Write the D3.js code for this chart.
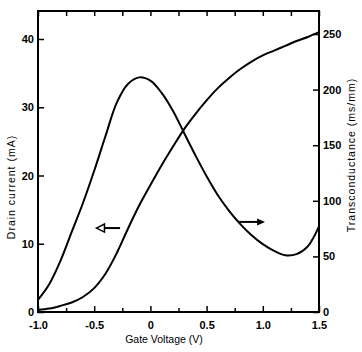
<!DOCTYPE html>
<html>
<head>
<meta charset="utf-8">
<script src="https://cdn.jsdelivr.net/npm/d3@7"></script>
<style>
body { margin: 0; background: #fff; }
svg text { font-family: "Liberation Sans", Arial, sans-serif; fill: #000; }
.tick text { font-size: 11px; font-weight: bold; }
.axis path.domain { display: none; }
.axis line { stroke: #000; stroke-width: 1.5px; }
</style>
</head>
<body>
<svg id="chart" width="362" height="352"></svg>
<script>
// gate voltage samples (V)
var gateV = [-1.0, -0.9, -0.8, -0.7, -0.6, -0.5, -0.4, -0.3, -0.2, -0.1, 0, 0.1, 0.2,
             0.3, 0.4, 0.5, 0.6, 0.7, 0.8, 0.9, 1.0, 1.1, 1.2, 1.3, 1.4, 1.5];
// drain current (mA), left axis
var drainI = [0.3, 0.5, 0.9, 1.4, 2.2, 3.5, 5.6, 8.6, 12.2, 15.6, 18.6, 21.5, 24.2,
              26.8, 29.0, 31.0, 32.8, 34.3, 35.6, 36.7, 37.6, 38.3, 39.0, 39.7, 40.3, 41.0];
// transconductance (ms/mm), right axis
var gm = [11, 25, 46, 72, 98, 127, 158, 188, 205, 211, 208, 197, 181,
          161, 141, 122, 105, 91, 79, 69, 61, 55, 51, 52, 59, 77];

var xTicks = [-1.0, -0.5, 0, 0.5, 1.0, 1.5];
var xTickLabels = ["-1.0", "-0.5", "0", "0.5", "1.0", "1.5"];
var xMinor = [-0.75, -0.25, 0.25, 0.75, 1.25];
var leftTicks = [0, 10, 20, 30, 40];
var rightTicks = [0, 50, 100, 150, 200, 250];

var svg = d3.select("#chart");
var L = 38, R = 319, T = 11, B = 312;

var x = d3.scaleLinear().domain([-1.0, 1.5]).range([L, R]);
var yL = d3.scaleLinear().domain([0, 40]).range([B, 39]);
var yR = d3.scaleLinear().domain([0, 250]).range([B, 34]);

// frame
svg.append("rect").attr("x", L).attr("y", T).attr("width", R - L).attr("height", B - T)
  .attr("fill", "none").attr("stroke", "#000").attr("stroke-width", 2);

// bottom axis
svg.append("g").attr("class", "axis").attr("transform", "translate(0," + B + ")")
  .call(d3.axisBottom(x).tickValues(xTicks).tickSize(-6).tickPadding(9)
    .tickFormat(function(d, i) { return xTickLabels[i]; }));
svg.append("g").attr("class", "axis").attr("transform", "translate(0," + B + ")")
  .call(d3.axisBottom(x).tickValues(xMinor).tickSize(-4).tickFormat(""));
// top axis ticks
svg.append("g").attr("class", "axis").attr("transform", "translate(0," + T + ")")
  .call(d3.axisTop(x).tickValues(xTicks.concat(xMinor)).tickSize(-5).tickFormat(""));

// left axis
svg.append("g").attr("class", "axis").attr("transform", "translate(" + L + ",0)")
  .call(d3.axisLeft(yL).tickValues(leftTicks).tickSize(-6).tickPadding(4));
// right axis
svg.append("g").attr("class", "axis").attr("transform", "translate(" + R + ",0)")
  .call(d3.axisRight(yR).tickValues(rightTicks).tickSize(-6).tickPadding(4));

svg.selectAll(".tick text").attr("font-size", 11);

// curves
var lineI = d3.line().x(function(d, i) { return x(gateV[i]); })
  .y(function(d) { return yL(d); }).curve(d3.curveCatmullRom.alpha(0.5));
var lineG = d3.line().x(function(d, i) { return x(gateV[i]); })
  .y(function(d) { return yR(d); }).curve(d3.curveCatmullRom.alpha(0.5));

svg.append("path").attr("d", lineI(drainI)).attr("fill", "none")
  .attr("stroke", "#000").attr("stroke-width", 2);
svg.append("path").attr("d", lineG(gm)).attr("fill", "none")
  .attr("stroke", "#000").attr("stroke-width", 2);

// arrows pointing to each curve's axis
var ax1 = x(-0.48), ax2 = x(-0.27), ay = yL(12.3);
svg.append("line").attr("x1", ax1 + 6).attr("x2", ax2).attr("y1", ay).attr("y2", ay)
  .attr("stroke", "#000").attr("stroke-width", 2);
svg.append("path").attr("d", "M" + ax1 + "," + ay + "L" + (ax1 + 8) + "," + (ay - 4) +
  "L" + (ax1 + 8) + "," + (ay + 4) + "Z").attr("fill", "#fff").attr("stroke", "#000").attr("stroke-width", 1.5);

var bx1 = x(0.78), bx2 = x(1.02), by = yR(81);
svg.append("line").attr("x1", bx1).attr("x2", bx2 - 6).attr("y1", by).attr("y2", by)
  .attr("stroke", "#000").attr("stroke-width", 2);
svg.append("path").attr("d", "M" + bx2 + "," + by + "L" + (bx2 - 8) + "," + (by - 3.5) +
  "L" + (bx2 - 8) + "," + (by + 3.5) + "Z").attr("fill", "#000");

// axis titles
svg.append("text").attr("transform", "translate(15,187) rotate(-90)")
  .attr("text-anchor", "middle").attr("font-size", 10.5).attr("letter-spacing", 1)
  .text("Drain current  (mA)");
svg.append("text").attr("transform", "translate(355,155) rotate(-90)")
  .attr("text-anchor", "middle").attr("font-size", 10.5).attr("letter-spacing", 1)
  .text("Transconductance  (ms/mm)");
svg.append("text").attr("x", 164).attr("y", 343)
  .attr("text-anchor", "middle").attr("font-size", 10.5)
  .text("Gate Voltage (V)");
</script>
</body>
</html>
